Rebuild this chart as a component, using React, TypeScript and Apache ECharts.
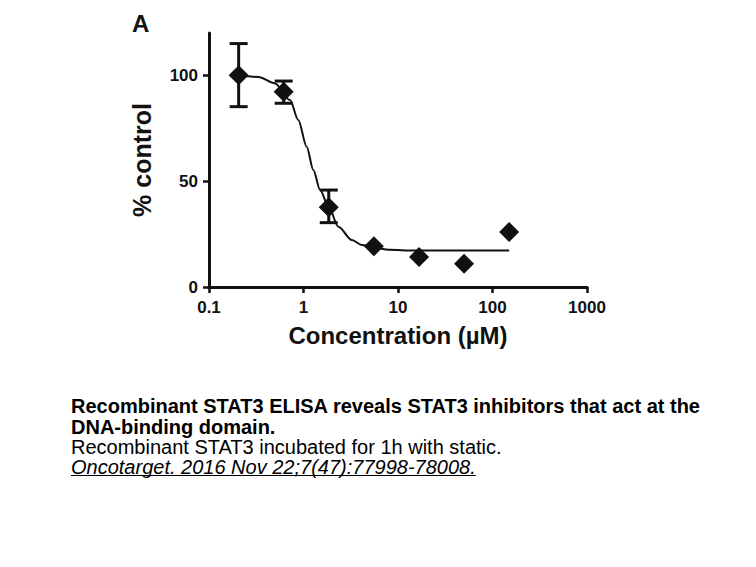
import React, { useEffect, useRef } from "react";
import * as echarts from "echarts";

// Measured points (concentration in µM, % control)
const concentrations = [0.206, 0.617, 1.85, 5.56, 16.7, 50, 150];
const percentControl = [100, 92.2, 37.7, 19.2, 14.2, 11.0, 26.0];
// Error bars (SEM) — low / high
const errLow = [85.2, 86.8, 30.4, null, null, null, null];
const errHigh = [115, 97.3, 45.8, null, null, null, null];

// Fitted curve
const curveX = [0.206, 0.333, 0.5, 0.72, 0.88, 1.08, 1.27, 1.5, 1.84, 2.34, 3.25, 4.15, 5.6, 8, 15, 150];
const curveY = [100, 99.2, 96.2, 88.3, 78.9, 66.3, 55.3, 45.8, 37.9, 28.5, 22.2, 19.8, 18.6, 17.6, 17.2, 17.2];

const yTicks = [0, 50, 100];

const panelLabel = "A";
const yName = "% control";
const xName = "Concentration (µM)";
const captionLines = [
  "Recombinant STAT3 ELISA reveals STAT3 inhibitors that act at the",
  "DNA-binding domain.",
  "Recombinant STAT3 incubated for 1h with static.",
  "Oncotarget. 2016 Nov 22;7(47):77998-78008.",
];

const FONT = '"Liberation Sans", Arial, Helvetica, sans-serif';

function measure(text: string, font: string): number {
  const c = document.createElement("canvas");
  const ctx = c.getContext("2d");
  if (!ctx) return 0;
  ctx.font = font;
  return ctx.measureText(text).width;
}

export default function App() {
  const ref = useRef<HTMLDivElement>(null);
  useEffect(() => {
    if (!ref.current) return;
    const chart = echarts.init(ref.current, undefined, { renderer: "svg" });

    const scatterData = concentrations.map((c, i) => [c, percentControl[i]]);
    const errData = concentrations
      .map((c, i) => [c, errLow[i], errHigh[i]])
      .filter((d) => d[1] != null);
    const curveData = curveX.map((x, i) => [x, curveY[i]]);

    const italicFont = `italic 20px ${FONT}`;
    const underlineW = measure(captionLines[3], italicFont);

    chart.setOption({
      animation: false,
      backgroundColor: "#ffffff",
      grid: { left: 209, right: 169, top: 33, bottom: 280, containLabel: false },
      xAxis: {
        type: "log",
        logBase: 10,
        min: 0.1,
        max: 1000,
        name: xName,
        nameLocation: "middle",
        nameGap: 36,
        nameTextStyle: { fontFamily: FONT, fontWeight: "bold", fontSize: 24, color: "#111" },
        axisLine: { lineStyle: { color: "#111", width: 3 } },
        axisTick: { show: true, length: 6, lineStyle: { color: "#111", width: 2.5 } },
        minorTick: { show: false },
        splitLine: { show: false },
        axisLabel: {
          fontFamily: FONT,
          fontWeight: "bold",
          fontSize: 17,
          color: "#111",
          margin: 12,
          formatter: (v: number) => (v < 1 ? v.toFixed(1) : String(Math.round(v))),
        },
      },
      yAxis: {
        type: "value",
        min: 0,
        max: 120,
        name: yName,
        nameLocation: "middle",
        nameGap: 55,
        nameTextStyle: { fontFamily: FONT, fontWeight: "bold", fontSize: 25, color: "#111" },
        axisLine: { show: true, lineStyle: { color: "#111", width: 3 } },
        axisTick: { show: true, length: 6, customValues: yTicks, lineStyle: { color: "#111", width: 2.5 } },
        splitLine: { show: false },
        axisLabel: {
          fontFamily: FONT,
          fontWeight: "bold",
          fontSize: 17,
          color: "#111",
          margin: 11,
          customValues: yTicks,
        },
      },
      series: [
        {
          type: "line",
          data: curveData,
          showSymbol: false,
          smooth: 0.3,
          smoothMonotone: "x",
          lineStyle: { color: "#111", width: 2 },
          z: 2,
          silent: true,
        },
        {
          type: "custom",
          data: errData,
          z: 3,
          renderItem: (params: any, api: any) => {
            const x = api.value(0);
            const lo = api.coord([x, api.value(1)]);
            const hi = api.coord([x, api.value(2)]);
            const half = 9;
            const style = { stroke: "#111", lineWidth: 3 };
            return {
              type: "group",
              children: [
                { type: "line", shape: { x1: lo[0], y1: lo[1], x2: hi[0], y2: hi[1] }, style },
                { type: "line", shape: { x1: lo[0] - half, y1: lo[1], x2: lo[0] + half, y2: lo[1] }, style },
                { type: "line", shape: { x1: hi[0] - half, y1: hi[1], x2: hi[0] + half, y2: hi[1] }, style },
              ],
            };
          },
        },
        {
          type: "scatter",
          data: scatterData,
          symbol: "diamond",
          symbolSize: [20, 20],
          itemStyle: { color: "#111", opacity: 1 },
          z: 4,
        },
      ],
      graphic: [
        {
          type: "text",
          left: 132,
          top: 11,
          style: { text: panelLabel, font: `bold 24px ${FONT}`, fill: "#111" },
        },
        {
          type: "text",
          x: 71,
          y: 396,
          style: { text: captionLines[0], font: `bold 20px ${FONT}`, fill: "#000" },
        },
        {
          type: "text",
          x: 71,
          y: 417,
          style: { text: captionLines[1], font: `bold 20px ${FONT}`, fill: "#000" },
        },
        {
          type: "text",
          x: 71,
          y: 437,
          style: { text: captionLines[2], font: `20px ${FONT}`, fill: "#000" },
        },
        {
          type: "text",
          x: 71,
          y: 457,
          style: { text: captionLines[3], font: italicFont, fill: "#000" },
        },
        {
          type: "line",
          shape: { x1: 71, y1: 475.5, x2: 71 + underlineW, y2: 475.5 },
          style: { stroke: "#000", lineWidth: 1 },
        },
      ],
    });
    return () => chart.dispose();
  }, []);
  return (
    <div
      ref={ref}
      style={{ position: "fixed", left: 0, top: 0, width: 756, height: 567, background: "#fff" }}
    />
  );
}
